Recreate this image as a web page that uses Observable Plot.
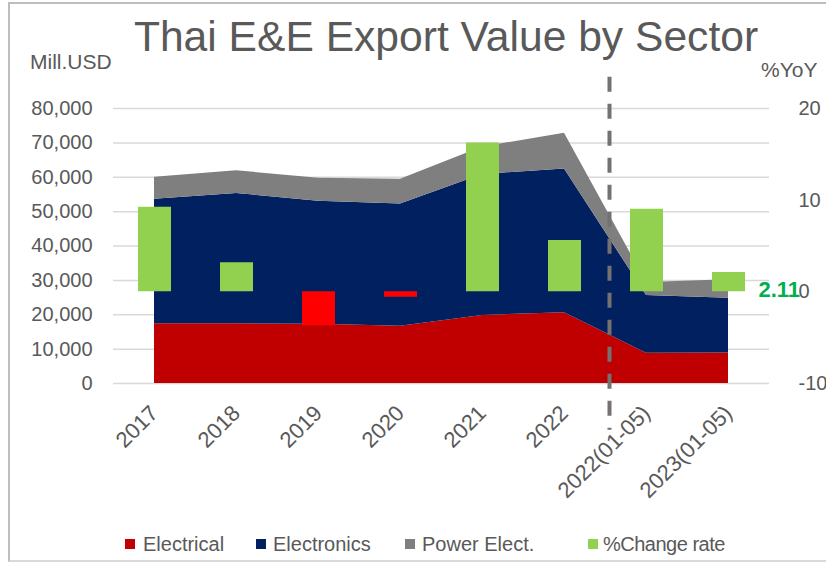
<!DOCTYPE html>
<html>
<head>
<meta charset="utf-8">
<script src="https://cdn.jsdelivr.net/npm/d3@7"></script>
<script src="https://cdn.jsdelivr.net/npm/@observablehq/plot@0.6"></script>
<style>
  html, body { margin: 0; padding: 0; background: #fff; }
  #wrap { position: relative; width: 826px; height: 566px; overflow: hidden; background: #fff;
          font-family: "Liberation Sans", Arial, sans-serif; color: #595959; }
  #frame { position: absolute; left: 8px; top: 2px; width: 840px; height: 560px;
           border-left: 2px solid #bdbdbd; border-top: 2px solid #bdbdbd; border-bottom: 2px solid #d9d9d9; box-sizing: border-box; }
  .t { position: absolute; white-space: nowrap; }
  #chart { position: absolute; left: 0; top: 0; }
  .sw { position: absolute; width: 10px; height: 10px; }
</style>
</head>
<body>
<div id="wrap">
  <div id="frame"></div>
  <div id="chart"></div>
  <div class="t" id="title" style="left:46px;width:800px;text-align:center;top:15px;font-size:42.6px;line-height:42.6px;">Thai E&amp;E Export Value by Sector</div>
  <div class="t" style="left:30px;top:51px;font-size:21px;line-height:21px;">Mill.USD</div>
  <div class="t" style="left:761px;top:59px;font-size:21px;line-height:21px;">%YoY</div>
  <div id="legend"></div>
</div>
<script>
// ---- data ----
const categories = ["2017", "2018", "2019", "2020", "2021", "2022", "2022(01-05)", "2023(01-05)"];
const electrical  = [17350, 17350, 17250, 16660, 19800, 20550, 8800, 8850];
const electronics = [36250, 37950, 35750, 35540, 41000, 41850, 16800, 15950];
const powerElect  = [6400, 6600, 6700, 7200, 8000, 10400, 3800, 5400];
const changeRate  = [9.24, 3.16, -3.7, -0.58, 16.25, 5.6, 9.02, 2.11];
const leftTicks   = [0, 10000, 20000, 30000, 40000, 50000, 60000, 70000, 80000];
const rightTicks  = [-10, 0, 10, 20];
const seriesNames  = ["Electrical", "Electronics", "Power Elect.", "%Change rate"];
const seriesColors = ["#C00000", "#002060", "#7F7F7F", "#92D050"];
const negativeColor = "#FF0000";
const labelColor = "#00B050";
const dividerCategory = "2022(01-05)";
const dividerExtent = [89100, -13600];
const labeledCategory = "2023(01-05)";

// right axis (%YoY, -10..20) mapped onto left scale (0..80000)
const leftDomain = [0, 80000];
const rightDomain = [-10, 20];
const pctToLeft = p => (p - rightDomain[0]) / (rightDomain[1] - rightDomain[0]) * (leftDomain[1] - leftDomain[0]) + leftDomain[0];

const areaData = [];
[electrical, electronics, powerElect].forEach((arr, si) => {
  categories.forEach((c, i) => areaData.push({cat: c, series: seriesNames[si], value: arr[i]}));
});
const barData = categories.map((c, i) => ({cat: c, value: changeRate[i]}));

const chart = Plot.plot({
  width: 826,
  height: 566,
  marginLeft: 113,
  marginRight: 57,
  marginTop: 108,
  marginBottom: 183,
  style: {fontFamily: "'Liberation Sans', Arial, sans-serif", fontSize: "20px", color: "#595959", background: "transparent", overflow: "visible"},
  x: {type: "point", domain: categories, padding: 0.5},
  y: {domain: leftDomain},
  color: {domain: seriesNames, range: seriesColors},
  marks: [
    Plot.gridY(leftTicks, {stroke: "#d9d9d9", strokeOpacity: 1, strokeWidth: 1.5}),
    Plot.areaY(areaData, {x: "cat", y: "value", z: "series", fill: "series", order: seriesNames.slice(0, 3)}),
    Plot.ruleX(barData, {filter: d => d.value >= 0, x: "cat", y1: () => pctToLeft(0), y2: d => pctToLeft(d.value), stroke: seriesColors[3], strokeWidth: 33}),
    Plot.ruleX(barData, {filter: d => d.value < 0, x: "cat", y1: () => pctToLeft(0), y2: d => pctToLeft(d.value), stroke: negativeColor, strokeWidth: 33}),
    Plot.ruleX([dividerCategory], {x: d => d, dx: -37, y1: () => dividerExtent[0], y2: () => dividerExtent[1], stroke: "#767171", strokeWidth: 4, strokeDasharray: "15,12"}),
    Plot.text(barData.filter(d => d.cat === labeledCategory), {x: "cat", y: () => pctToLeft(0), text: d => d.value.toFixed(2), dx: 30, dy: -2, textAnchor: "start", fill: labelColor, fontWeight: "bold", fontSize: 22}),
    Plot.axisY(leftTicks, {anchor: "left", tickSize: 0, tickPadding: 21, tickFormat: d3.format(","), fontSize: 20, label: null}),
    Plot.axisY(rightTicks.map(pctToLeft), {anchor: "right", tickSize: 0, tickPadding: 29, textAnchor: "start", tickFormat: (d, i) => String(rightTicks[i]), fontSize: 20, label: null}),
    Plot.axisX({tickSize: 0, tickRotate: -45, tickPadding: 26, fontSize: 22, label: null})
  ]
});
document.getElementById("chart").appendChild(chart);

// legend
const legendPos = [[125, 143], [256, 273], [405, 422], [588, 603]];
const legend = document.getElementById("legend");
seriesNames.forEach((name, i) => {
  const sw = document.createElement("div");
  sw.className = "sw";
  sw.style.left = legendPos[i][0] + "px";
  sw.style.top = "539px";
  sw.style.background = seriesColors[i];
  legend.appendChild(sw);
  const tx = document.createElement("div");
  tx.className = "t";
  tx.style.left = legendPos[i][1] + "px";
  tx.style.top = "534px";
  tx.style.fontSize = "20px";
  tx.style.lineHeight = "20px";
  if (i === 3) tx.style.letterSpacing = "-0.5px";
  tx.textContent = name;
  legend.appendChild(tx);
});
</script>
</body>
</html>
